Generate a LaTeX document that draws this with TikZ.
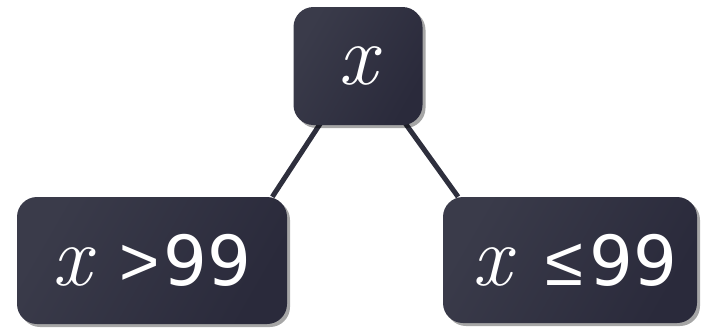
\documentclass[tikz,border=0pt]{standalone}
\usepackage{fontspec}
\setmainfont{DejaVu Sans}
\newfontfamily\xf{Latin Modern Roman}
\newfontfamily\symf{Liberation Sans}
\usetikzlibrary{shadows,calc,backgrounds}
\definecolor{boxlight}{HTML}{3A3B4A}
\definecolor{boxdark}{HTML}{2A2A3B}
\definecolor{linec}{HTML}{2E2F3D}
\newcommand{\xvar}{{\fontsize{86}{86}\selectfont\xf\itshape x}}
\newcommand{\numtxt}[1]{{\fontsize{69}{70}\selectfont #1}}
\newcommand{\symtxt}[1]{{\fontsize{69}{70}\selectfont\symf #1}}
\tikzset{
  boxnode/.style={rounded corners=20pt, inner sep=0pt, text=white,
    left color=boxlight, right color=boxdark, shading angle=60,
    drop shadow={shadow xshift=3pt, shadow yshift=-3pt, fill=black, opacity=0.35}},
  conn/.style={draw=linec, line width=5pt}
}
\begin{document}
\begin{tikzpicture}[x=1pt,y=-1pt]
\useasboundingbox (0,0) rectangle (702,327);
\node[boxnode, minimum width=129pt, minimum height=118pt] (top) at (358,66)
  {\raisebox{-6pt}{\xvar}};
\node[boxnode, minimum width=270pt, minimum height=127pt] (left) at (152,260.5)
  {\raisebox{-8pt}{\xvar\hspace{28pt}\symtxt{>}\hspace{4pt}\numtxt{99}}};
\node[boxnode, minimum width=254pt, minimum height=126pt] (right) at (570,260)
  {\raisebox{-8pt}{\hspace{10pt}\xvar\hspace{34pt}\symtxt{≤}\hspace{6pt}\numtxt{99}}};
\begin{scope}[on background layer]
\draw[conn] (top.center) -- ($(left.north)!0.89!(left.north east)$);
\draw[conn] ([xshift=6pt]top.center) -- ($(right.north)!0.88!(right.north west)$);
\end{scope}
\end{tikzpicture}
\end{document}
